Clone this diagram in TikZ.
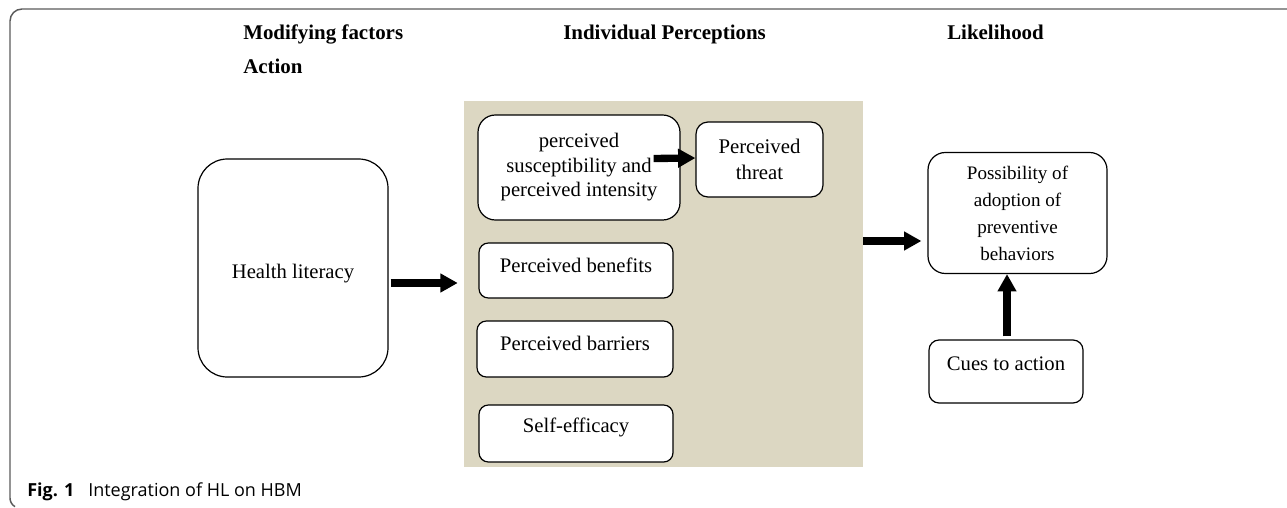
\documentclass[tikz,border=0pt]{standalone}
\usepackage{fontspec}
\setmainfont{Liberation Serif}
\newfontfamily\capfont{Open Sans}
\usetikzlibrary{arrows.meta,calc}
\definecolor{tan}{RGB}{220,215,194}
\definecolor{framegray}{RGB}{90,90,90}
\begin{document}
\begin{tikzpicture}[x=0.75pt,y=-0.75pt,
  box/.style={draw=black,line width=0.9pt,fill=white,inner sep=0pt,align=center,
    font=\fontsize{15.5pt}{19pt}\selectfont},
  head/.style={anchor=base west,inner sep=0pt,font=\fontsize{15.7pt}{19pt}\selectfont\bfseries},
  lbl/.style={inner sep=0pt,align=center,font=\fontsize{15.5pt}{19pt}\selectfont},
  fat/.style={line width=5.5pt,-{Triangle[length=13pt,width=13.5pt]}},
]
\useasboundingbox (0,0) rectangle (1287,507);
% frame (top and left only)
\draw[framegray,line width=1.1pt] (1287,9) -- (22,9) arc[start angle=270,end angle=180,radius=12] -- (10,498) arc[start angle=180,end angle=120,radius=10];
% headings
\node[head] (h1) at (243,39) {Modifying factors};
\node[head] (h2) at (243,73) {Action};
\node[head] (h3) at (563,39) {Individual Perceptions};
\node[head] (h4) at (947,39) {Likelihood};
% panel
\node[fill=tan,inner sep=0pt,minimum width=299.25pt,minimum height=274.5pt] (panel) at (663.5,284) {};
% boxes
\node[box,rounded corners=22pt,minimum width=142.5pt,minimum height=163.5pt] (hl) at (293,268) {};
\node[lbl] at ($(hl.center)+(0,6)$) {Health literacy};
\node[box,rounded corners=13pt,minimum width=151.5pt,minimum height=78.75pt] (sus) at (579,167.5)
  {perceived\\[-0.6pt]susceptibility and\\[-0.6pt]perceived intensity};
\node[box,rounded corners=9pt,minimum width=95.25pt,minimum height=56.25pt,
  font=\fontsize{15.6pt}{20pt}\selectfont] (thr) at (759.5,159.5) {Perceived\\threat};
\node[box,rounded corners=7pt,minimum width=145.5pt,minimum height=41.25pt] (ben) at (576,270.5) {};
\node[lbl] at ($(ben.center)+(0,-5)$) {Perceived benefits};
\node[box,rounded corners=7pt,minimum width=147pt,minimum height=42pt] (bar) at (575,349) {};
\node[lbl] at ($(bar.center)+(0,-6)$) {Perceived barriers};
\node[box,rounded corners=7pt,minimum width=145.5pt,minimum height=42.75pt] (se) at (576,433.5) {};
\node[lbl] at ($(se.center)+(0,-6)$) {Self-efficacy};
\node[box,rounded corners=13pt,minimum width=134.25pt,minimum height=90.75pt,
  font=\fontsize{14.3pt}{20.2pt}\selectfont] (pos) at (1017.5,213)
  {Possibility of\\adoption of\\preventive\\behaviors};
\node[box,rounded corners=7.5pt,minimum width=115.5pt,minimum height=47.25pt] (cue) at (1006,371.5) {};
\node[lbl] at ($(cue.center)+(0,-8)$) {Cues to action};
% arrows
\coordinate (cuetop) at ($(cue.north)+(1,-3)$);
\draw[fat] ($(hl.east)+(2,15)$) -- ($(panel.west)+(-6,-1)$);
\draw[fat] ($(panel.east)+(0,-43)$) -- ($(pos.west)+(-6,28)$);
\draw[fat] ($(sus.east)+(-27,-9)$) -- ($(thr.west)+(0,-1.5)$);
\draw[fat] (cuetop) -- (cuetop |- pos.south);
% caption
\node[anchor=base west,inner sep=0pt,font=\capfont\fontsize{13.5pt}{16pt}\selectfont\bfseries] (fig) at (27,496) {Fig. 1};
\node[anchor=base west,inner sep=0pt,font=\capfont\fontsize{13.5pt}{16pt}\selectfont] (cap) at (88,496) {Integration of HL on HBM};
\end{tikzpicture}
\end{document}
